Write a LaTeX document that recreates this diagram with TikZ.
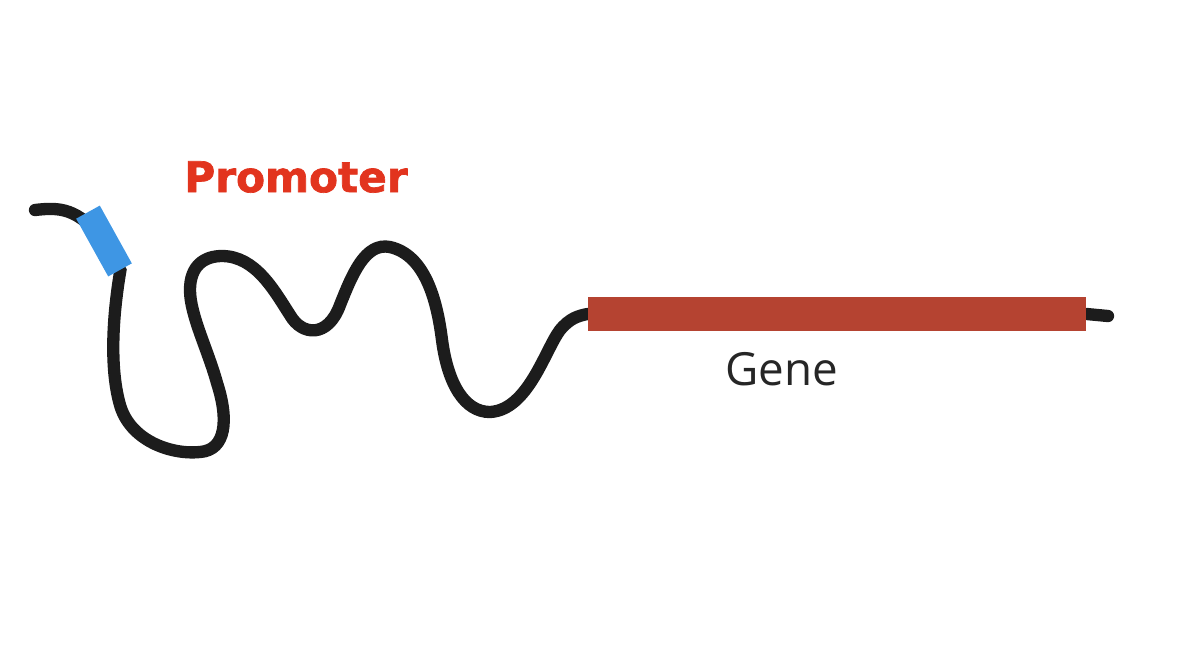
\documentclass[tikz,border=0pt]{standalone}
\usepackage{fontspec}
\usepackage{xcolor}
\usetikzlibrary{positioning, backgrounds}
\newfontfamily\labelfont{DejaVu Sans}[BoldFeatures={FakeBold=1.6}]
\newfontfamily\genefont{Open Sans}
\definecolor{strandcol}{RGB}{28,28,28}
\definecolor{promcol}{RGB}{62,150,228}
\definecolor{genecol}{RGB}{181,67,49}
\definecolor{promtext}{RGB}{226,52,30}

\begin{document}
\begin{tikzpicture}[x=0.01cm, y=-0.01cm]
    \tikzstyle{strand}=[draw=strandcol, line width=3.5pt, line cap=round]
    \tikzstyle{promoter box}=[rectangle, fill=promcol, minimum width=0.66cm, minimum height=0.27cm, inner sep=0pt, rotate=-61]
    \tikzstyle{gene box}=[rectangle, fill=genecol, minimum width=4.98cm, minimum height=0.34cm, inner sep=0pt]
    \tikzstyle{annot}=[inner sep=0pt]

    \useasboundingbox (0,0) rectangle (1200,650);

    \coordinate (start) at (35,210);
    \coordinate (tail) at (1108,316);
    \node[gene box] (gene) at (837,314) {};
    \node[promoter box] (prom) at (104,241) {};

    % DNA strand, kept behind the boxes
    \begin{pgfonlayer}{background}
    \draw[strand] (start) .. controls (60,207) and (78,208) .. (prom.center);
    \draw[strand] (prom.center) -- (prom.east)
        .. controls (112,320) and (110,370) .. (120,405)
        .. controls (130,440) and (170,455) .. (200,452)
        .. controls (226,450) and (229,420) .. (217,383)
        .. controls (208,350) and (190,315) .. (190,290)
        .. controls (190,265) and (205,256) .. (222,256)
        .. controls (256,256) and (275,292) .. (290,315)
        .. controls (302,336) and (328,338) .. (340,305)
        .. controls (352,275) and (365,242) .. (390,247)
        .. controls (425,255) and (437,300) .. (442,340)
        .. controls (448,385) and (465,412) .. (490,412)
        .. controls (528,410) and (545,350) .. (560,330)
        .. controls (570,318) and (578,316) .. (gene.west);
    \draw[strand] (gene.east) -- (tail);
    \end{pgfonlayer}

    \node[annot, text=promtext, font=\labelfont\bfseries\fontsize{12}{14}\selectfont] (promlabel) at (296,177) {Promoter};
    \node[annot, text=black!85, font=\genefont\fontsize{13}{15}\selectfont] (genelabel) at (782,369) {Gene};
\end{tikzpicture}
\end{document}
